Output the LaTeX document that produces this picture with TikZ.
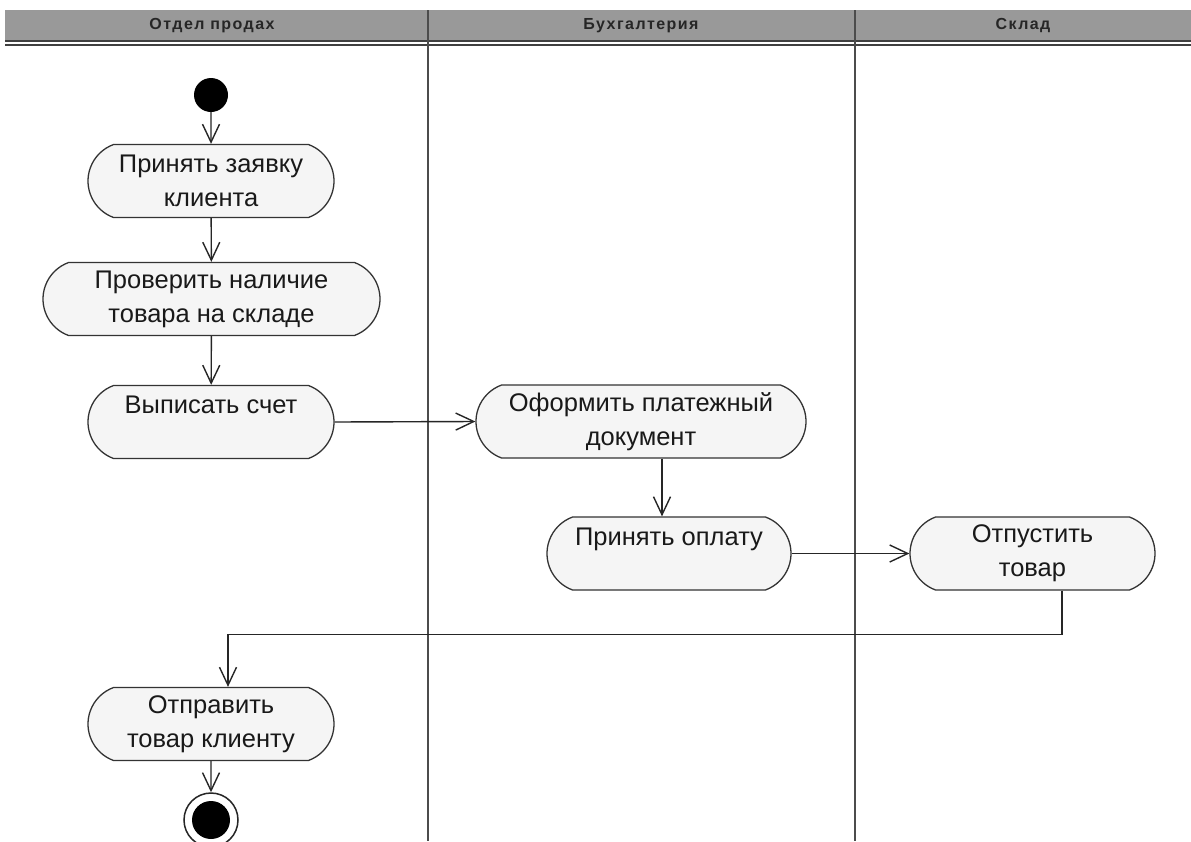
\documentclass[tikz,border=0pt]{standalone}
\usepackage{fontspec}
\setmainfont{Liberation Sans}
\newfontfamily\hdrfont[LetterSpace=9]{Liberation Sans Bold}
\usetikzlibrary{arrows.meta,shapes.misc}
\begin{document}
\begin{tikzpicture}[x=1pt,y=-1pt,
  act/.style={rounded rectangle, rounded rectangle arc length=140, draw=black!80, line width=1.3pt,
    fill=black!4, minimum width=246pt, minimum height=73pt, inner sep=0pt, align=center,
    font=\fontsize{25.5}{34}\selectfont, text=black!90},
  arr/.style={draw=black!85, line width=1.4pt, -{Straight Barb[length=18pt,width=17pt,line width=1.4pt]}},
  lane/.style={draw=black!70, line width=2pt},
  hdr/.style={font=\hdrfont\fontsize{16}{18}\selectfont, text=black!85}]
\useasboundingbox (0,0) rectangle (1191,841);
\fill[white] (0,0) rectangle (1191,841);
% header
\fill[black!40] (5,10) rectangle (1191,40);
\draw[black!75, line width=2.2pt] (5,41) -- (1191,41);
\draw[black!75, line width=1.8pt] (5,45) -- (1191,45);
\draw[lane] (428,10) -- (428,841);
\draw[lane] (855,10) -- (855,841);
\node[hdr] (h1) at (212,26) {Отдел продах};
\node[hdr] (h2) at (641,26) {Бухгалтерия};
\node[hdr] (h3) at (1023,26) {Склад};
% nodes
\node[circle, fill=black, minimum size=34pt, inner sep=0pt] (start) at (211,95) {};
\node[act] (n1) at (211,181) {Принять заявку\\клиента};
\node[act, minimum width=337pt] (n2) at (211.5,299) {Проверить наличие\\товара на складе};
\node[act] (n3) at (211,422) {Выписать счет\\\phantom{x}};
\node[act, minimum width=330pt] (n4) at (641,421.5) {Оформить платежный\\документ};
\node[act, minimum width=244pt] (n5) at (669,553.5) {Принять оплату\\\phantom{x}};
\node[act, minimum width=245pt] (n6) at (1032.5,553.5) {Отпустить\\товар};
\node[act] (n7) at (211,724) {Отправить\\товар клиенту};
\node[circle, draw=black!85, line width=1.5pt, fill=white, minimum size=54pt, inner sep=0pt] (end) at (211,820) {};
\node[circle, fill=black, minimum size=38pt, inner sep=0pt] (endin) at (end.center) {};
% connectors
\draw[arr] (start) -- (n1);
\draw[arr] (n1) -- (n2);
\draw[arr] (n2) -- (n3);
\draw[arr] (n3.east) -- (n4.west);
\draw[arr] ([xshift=21pt]n4.south) -- ([xshift=-7pt]n5.north);
\draw[arr] (n5.east) -- (n6.west);
\draw[arr] ([xshift=29.5pt]n6.south) -- ++(0,44) -| ([xshift=17pt]n7.north);
\draw[arr] (n7) -- (end);
\end{tikzpicture}
\end{document}
